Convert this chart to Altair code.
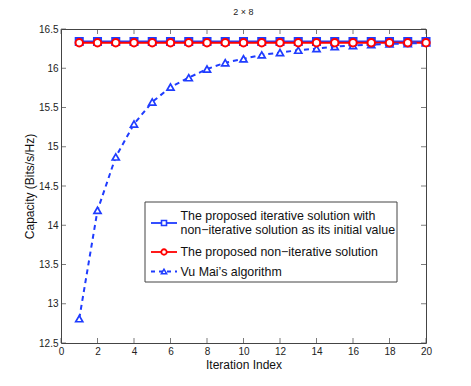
import altair as alt
import pandas as pd

iters = list(range(1, 21))
iterative = [16.34] * 20
noniter = [16.325] * 20
vumai = [12.81, 14.19, 14.87, 15.29, 15.57, 15.76, 15.88, 15.99, 16.07, 16.12,
         16.17, 16.20, 16.23, 16.25, 16.275, 16.29, 16.30, 16.31, 16.315, 16.325]
series_names = ["The proposed iterative solution with non\u2212iterative solution as its initial value",
                "The proposed non\u2212iterative solution",
                "Vu Mai\u2019s algorithm"]
x_ticks = list(range(0, 21, 2))
y_ticks = [12.5, 13, 13.5, 14, 14.5, 15, 15.5, 16, 16.5]

BLUE = "#1f3cff"
RED = "#ff0000"
FONT = "Liberation Sans"

df = pd.DataFrame({"it": iters, "a": iterative, "b": noniter, "c": vumai})
one = pd.DataFrame({"k": [0]})

xs = alt.Scale(domain=[0, 20], nice=False)
ys = alt.Scale(domain=[12.5, 16.5], nice=False, zero=False)

xax = alt.Axis(values=x_ticks, title="Iteration Index", grid=False, tickSize=0,
               labelPadding=3, labelFontSize=10, titleFontSize=12, titleFontWeight="normal",
               titlePadding=3, labelColor="#222", titleColor="#111", domain=False, labelFont=FONT,
               titleFont=FONT, labelOverlap=False, labelBound=False, labelFlush=False)
yax = alt.Axis(values=y_ticks, title="Capacity (Bits/s/Hz)", grid=False, tickSize=0,
               labelPadding=3, labelFontSize=10, titleFontSize=12, titleFontWeight="normal",
               titlePadding=2, labelColor="#222", titleColor="#111", domain=False,
               labelExpr="format(datum.value, '~g')", labelFont=FONT, titleFont=FONT,
               labelOverlap=False, labelBound=False, labelFlush=False)

base = alt.Chart(df)

X = lambda f: alt.X(f, scale=xs, axis=xax)
Y = lambda f: alt.Y(f, scale=ys, axis=yax)

l_a = base.mark_line(color=BLUE, strokeWidth=2).encode(x=X("it:Q"), y=Y("a:Q"))
p_a = base.mark_point(shape="square", color=BLUE, size=50, strokeWidth=2, filled=False, opacity=1).encode(
    x=X("it:Q"), y=Y("a:Q"))
l_b = base.mark_line(color=RED, strokeWidth=2).encode(x=X("it:Q"), y=Y("b:Q"))
p_b = base.mark_point(shape="circle", color=RED, size=55, strokeWidth=2, fill="white", opacity=1).encode(
    x=X("it:Q"), y=Y("b:Q"))
l_c = base.mark_line(color=BLUE, strokeWidth=2, strokeDash=[5, 4]).encode(x=X("it:Q"), y=Y("c:Q"))
p_c = base.mark_point(shape="triangle-up", color=BLUE, size=50, strokeWidth=1.7, fill="white", opacity=1).encode(
    x=X("it:Q"), y=Y("c:Q"))

# inward ticks (MATLAB style)
xt = pd.DataFrame({"t": x_ticks, "lo": 12.5, "hi": 16.5})
yt = pd.DataFrame({"t": y_ticks, "lo": 0, "hi": 20})
tick_col = "#444"
tb = alt.Chart(xt).mark_tick(orient="vertical", size=5, yOffset=-2.5, color=tick_col, thickness=1).encode(
    x=X("t:Q"), y=Y("lo:Q"))
tt = alt.Chart(xt).mark_tick(orient="vertical", size=5, yOffset=2.5, color=tick_col, thickness=1).encode(
    x=X("t:Q"), y=Y("hi:Q"))
tl = alt.Chart(yt).mark_tick(orient="horizontal", size=5, xOffset=2.5, color=tick_col, thickness=1).encode(
    y=Y("t:Q"), x=X("lo:Q"))
tr = alt.Chart(yt).mark_tick(orient="horizontal", size=5, xOffset=-2.5, color=tick_col, thickness=1).encode(
    y=Y("t:Q"), x=X("hi:Q"))

# legend box (decoration)
L, T, R, B = 84, 173, 336, 253
box = alt.Chart(one).mark_rect(fill="white", stroke="#444", strokeWidth=1).encode(
    x=alt.value(L), x2=alt.value(R), y=alt.value(T), y2=alt.value(B))
leg = [box]
rows = [(T + 21, BLUE, "square", None, 1.6, 25), (T + 50, RED, "circle", None, 1.8, 30),
        (T + 69.5, BLUE, "triangle-up", [4, 4], 1.5, 28)]
for yy, col, shp, dash, sw, sz in rows:
    kw = dict(color=col, strokeWidth=1.8)
    if dash:
        kw["strokeDash"] = dash
    leg.append(alt.Chart(one).mark_rule(**kw).encode(
        x=alt.value(L + 6), x2=alt.value(L + 32), y=alt.value(yy)))
    leg.append(alt.Chart(one).mark_point(shape=shp, color=col, size=sz, strokeWidth=sw, fill="white",
                                         opacity=1).encode(x=alt.value(L + 19), y=alt.value(yy)))
texts = [(T + 14, "The proposed iterative solution with"),
         (T + 28, "non\u2212iterative solution as its initial value"),
         (T + 50, series_names[1]), (T + 69.5, series_names[2])]
for yy, s in texts:
    leg.append(alt.Chart(one).mark_text(text=s, align="left", baseline="middle", fontSize=12.4,
                                        font=FONT, color="#111").encode(x=alt.value(L + 35.5), y=alt.value(yy)))

chart = alt.layer(l_a, p_a, l_b, l_c, p_c, p_b, tb, tt, tl, tr, *leg).properties(
    width=365, height=314,
    title=alt.TitleParams("2 \u00d7 8", fontSize=9, fontWeight="normal", font=FONT, offset=7, color="#222"),
    padding={"left": 53, "top": 21, "right": 30, "bottom": 30},
    autosize=alt.AutoSizeParams(type="none"),
).configure_view(stroke="#444", strokeWidth=1)

chart.save("out.html", embed_options={"renderer": "svg", "actions": False})
